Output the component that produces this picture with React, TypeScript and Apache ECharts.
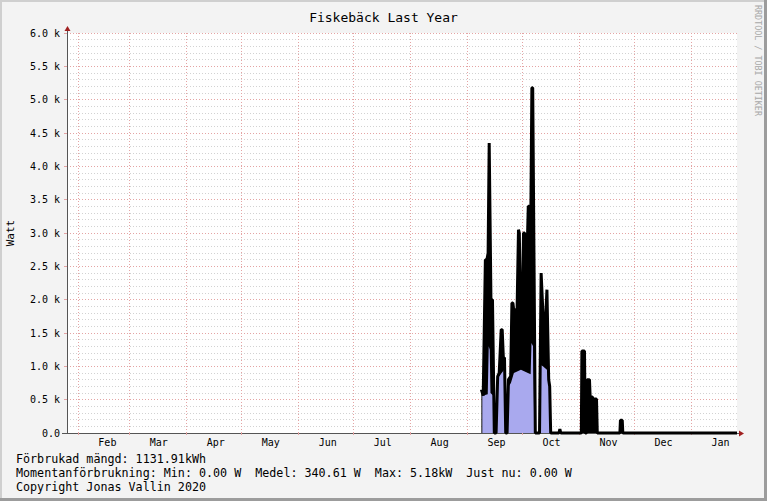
import React, { useEffect, useRef } from "react";
import * as echarts from "echarts";

const FONT = "DejaVu Sans Mono";
const TITLE = "Fiskebäck Last Year";
const Y_NAME = "Watt";
const WATERMARK = "RRDTOOL / TOBI OETIKER";
const X_MIN = "2019-01-26 00:00";
const X_MAX = "2020-01-26 00:00";

const monthStarts = [
  "2019-02-01", "2019-03-01", "2019-04-01", "2019-05-01", "2019-06-01", "2019-07-01",
  "2019-08-01", "2019-09-01", "2019-10-01", "2019-11-01", "2019-12-01", "2020-01-01",
];
const monthLabelDates = [
  "2019-02-17", "2019-03-17", "2019-04-17", "2019-05-17", "2019-06-17", "2019-07-17",
  "2019-08-17", "2019-09-17", "2019-10-17", "2019-11-17", "2019-12-17", "2020-01-17",
];
const monthNames = ["Feb", "Mar", "Apr", "May", "Jun", "Jul", "Aug", "Sep", "Oct", "Nov", "Dec", "Jan"];

const Y_MIN = 0;
const Y_MAX = 6000;
const Y_STEP = 500;

// black: peak power (W)
const maxWatt: [string, number][] = [
  ["2019-09-08 18:00", 650],
  ["2019-09-09 18:00", 560],
  ["2019-09-10 22:00", 2600],
  ["2019-09-11 18:00", 2600],
  ["2019-09-12 10:00", 2700],
  ["2019-09-13 00:00", 4350],
  ["2019-09-13 08:00", 4350],
  ["2019-09-13 23:00", 2000],
  ["2019-09-14 19:00", 2000],
  ["2019-09-15 19:00", 0],
  ["2019-09-16 18:00", 0],
  ["2019-09-17 15:00", 850],
  ["2019-09-18 11:00", 900],
  ["2019-09-19 13:00", 1550],
  ["2019-09-20 02:00", 1550],
  ["2019-09-20 17:00", 1130],
  ["2019-09-21 08:00", 1130],
  ["2019-09-22 00:00", 0],
  ["2019-09-22 18:00", 0],
  ["2019-09-23 12:00", 800],
  ["2019-09-24 17:00", 850],
  ["2019-09-25 09:00", 1950],
  ["2019-09-25 22:00", 1950],
  ["2019-09-26 08:00", 1850],
  ["2019-09-27 06:00", 1850],
  ["2019-09-27 21:00", 1350],
  ["2019-09-28 23:00", 3050],
  ["2019-09-29 10:00", 3000],
  ["2019-09-30 04:00", 1550],
  ["2019-09-30 20:00", 1550],
  ["2019-10-01 17:00", 3000],
  ["2019-10-02 08:00", 3000],
  ["2019-10-02 21:00", 2570],
  ["2019-10-03 13:00", 2570],
  ["2019-10-04 07:00", 3400],
  ["2019-10-04 18:00", 3400],
  ["2019-10-05 12:00", 2600],
  ["2019-10-06 06:00", 5180],
  ["2019-10-06 17:00", 5180],
  ["2019-10-08 03:00", 0],
  ["2019-10-10 10:00", 0],
  ["2019-10-11 07:00", 2400],
  ["2019-10-11 14:00", 2400],
  ["2019-10-12 09:00", 1740],
  ["2019-10-13 19:00", 1740],
  ["2019-10-14 11:00", 2150],
  ["2019-10-14 18:00", 2150],
  ["2019-10-15 10:00", 800],
  ["2019-10-15 23:00", 700],
  ["2019-10-16 12:00", 0],
  ["2019-10-21 00:00", 0],
  ["2019-10-21 12:00", 60],
  ["2019-10-22 00:00", 0],
  ["2019-11-02 05:00", 0],
  ["2019-11-02 12:00", 1230],
  ["2019-11-03 22:00", 1230],
  ["2019-11-04 08:00", 0],
  ["2019-11-05 00:00", 0],
  ["2019-11-05 08:00", 800],
  ["2019-11-06 15:00", 800],
  ["2019-11-07 00:00", 540],
  ["2019-11-08 06:00", 540],
  ["2019-11-08 17:00", 420],
  ["2019-11-09 06:00", 510],
  ["2019-11-10 11:00", 510],
  ["2019-11-10 21:00", 0],
  ["2019-11-23 05:00", 0],
  ["2019-11-23 12:00", 190],
  ["2019-11-24 12:00", 190],
  ["2019-11-24 19:00", 0],
  ["2020-01-26 00:00", 0],
];

// blue: average power (W)
const avgWatt: [string, number][] = [
  ["2019-09-09 06:00", 560],
  ["2019-09-12 05:00", 580],
  ["2019-09-12 18:00", 1300],
  ["2019-09-13 07:00", 1250],
  ["2019-09-13 17:00", 600],
  ["2019-09-15 06:00", 560],
  ["2019-09-15 19:00", 0],
  ["2019-09-16 21:00", 0],
  ["2019-09-17 16:00", 820],
  ["2019-09-21 03:00", 950],
  ["2019-09-21 16:00", 0],
  ["2019-09-22 21:00", 0],
  ["2019-09-23 16:00", 700],
  ["2019-09-24 20:00", 750],
  ["2019-09-26 11:00", 900],
  ["2019-09-30 07:00", 950],
  ["2019-10-05 14:00", 880],
  ["2019-10-06 01:00", 1350],
  ["2019-10-06 22:00", 1300],
  ["2019-10-07 14:00", 0],
  ["2019-10-10 15:00", 0],
  ["2019-10-11 01:00", 1020],
  ["2019-10-12 06:00", 1000],
  ["2019-10-14 11:00", 950],
  ["2019-10-15 07:00", 770],
  ["2019-10-15 23:00", 700],
  ["2019-10-16 07:00", 0],
];

const legendLines = [
  "Förbrukad mängd: 1131.91kWh",
  "Momentanförbrukning: Min: 0.00 W  Medel: 340.61 W  Max: 5.18kW  Just nu: 0.00 W",
  "Copyright Jonas Vallin 2020",
];

const t = (s: string) => new Date(s.length <= 10 ? s + "T00:00" : s.replace(" ", "T")).getTime();

export default function App() {
  const ref = useRef<HTMLDivElement>(null);
  useEffect(() => {
    document.body.style.margin = "0";
    if (!ref.current) return;
    const chart = echarts.init(ref.current, undefined, { renderer: "svg" });
    const monthStartTs = monthStarts.map(t);
    const monthLabelTs = monthLabelDates.map(t);
    const maxData = maxWatt.map(([d, v]) => [t(d), v]);
    const avgData = avgWatt.map(([d, v]) => [t(d), v]);
    const red = "#e4a4a4";
    const grey = "#d2d2d2";
    const axisCol = "#555555";
    const arrowCol = "#a02020";
    const option: any = {
      animation: false,
      backgroundColor: "#f3f3f3",
      title: {
        text: TITLE,
        left: "center",
        top: 6,
        textStyle: { fontFamily: FONT, fontSize: 13, fontWeight: "normal", color: "#000" },
      },
      grid: {
        left: 67, right: 30, top: 33, bottom: 68,
        containLabel: false, outerBoundsMode: "none",
        show: true, backgroundColor: "#ffffff", borderWidth: 0,
      },
      xAxis: {
        type: "value",
        min: t(X_MIN),
        max: t(X_MAX),
        axisLine: { show: true, lineStyle: { color: axisCol, width: 1 } },
        axisTick: { show: true, customValues: monthStartTs, length: 2, lineStyle: { color: red } },
        axisLabel: {
          customValues: monthLabelTs,
          formatter: (v: number) => {
            let best = 0;
            let bd = Infinity;
            monthLabelTs.forEach((m, i) => {
              const d = Math.abs(m - v);
              if (d < bd) { bd = d; best = i; }
            });
            return monthNames[best];
          },
          fontFamily: FONT,
          fontSize: 10,
          color: "#000",
          margin: 4,
        },
        splitLine: { show: true, lineStyle: { color: red, type: [1, 2], width: 1 } },
      },
      yAxis: {
        type: "value",
        min: Y_MIN,
        max: Y_MAX,
        interval: Y_STEP,
        name: Y_NAME,
        nameLocation: "middle",
        nameGap: 51,
        nameRotate: 90,
        nameTextStyle: { fontFamily: FONT, fontSize: 11, color: "#000" },
        axisLine: { show: true, lineStyle: { color: axisCol, width: 1 } },
        axisTick: { show: true, length: 3, lineStyle: { color: red } },
        axisLabel: {
          formatter: (v: number) => (v === 0 ? "0.0" : (v / 1000).toFixed(1) + " k"),
          fontFamily: FONT,
          fontSize: 10,
          color: "#000",
          margin: 7,
        },
        splitLine: { show: true, lineStyle: { color: red, type: [1, 2], width: 1 } },
        minorTick: { show: false, splitNumber: 5 },
        minorSplitLine: { show: true, lineStyle: { color: grey, type: [1, 2], width: 1 } },
      },
      series: [
        {
          type: "line", data: maxData, symbol: "none", silent: true, z: 2,
          lineStyle: { width: 0, color: "#000" }, itemStyle: { color: "#000" },
          areaStyle: { color: "#000", opacity: 1 },
        },
        {
          type: "line", data: avgData, symbol: "none", silent: true, z: 3,
          lineStyle: { width: 0, color: "#a9a9ee" }, itemStyle: { color: "#a9a9ee" },
          areaStyle: { color: "#a9a9ee", opacity: 1 },
        },
        {
          type: "line", data: maxData, symbol: "none", silent: true, z: 4, clip: false,
          lineStyle: { width: 3, color: "#000" }, itemStyle: { color: "#000" },
        },
      ],
      graphic: [
        { type: "rect", z: 100, shape: { x: 0, y: 0, width: 767, height: 2 }, style: { fill: "#cfcfcf" } },
        { type: "rect", z: 100, shape: { x: 0, y: 0, width: 2, height: 501 }, style: { fill: "#cfcfcf" } },
        { type: "rect", z: 100, shape: { x: 0, y: 498, width: 767, height: 3 }, style: { fill: "#9c9c9c" } },
        { type: "rect", z: 100, shape: { x: 764, y: 0, width: 3, height: 501 }, style: { fill: "#9c9c9c" } },
        { type: "line", z: 100, shape: { x1: 62, y1: 433.5, x2: 67, y2: 433.5 }, style: { stroke: axisCol, lineWidth: 1 } },
        { type: "line", z: 100, shape: { x1: 67.5, y1: 33, x2: 67.5, y2: 29 }, style: { stroke: axisCol, lineWidth: 1 } },
        { type: "polygon", z: 100, shape: { points: [[67.5, 26], [64.5, 31], [70.5, 31]] }, style: { fill: arrowCol } },
        { type: "line", z: 100, shape: { x1: 737, y1: 433.5, x2: 740, y2: 433.5 }, style: { stroke: axisCol, lineWidth: 1 } },
        { type: "polygon", z: 100, shape: { points: [[744, 433.5], [739, 430.5], [739, 436.5]] }, style: { fill: arrowCol } },
        {
          type: "text", z: 100, x: 762, y: 5, rotation: -Math.PI / 2,
          style: { text: WATERMARK, fill: "#a8a8a8", font: `8.4px "${FONT}"`, textAlign: "left", textVerticalAlign: "top" },
        },
        ...legendLines.map((s, i) => ({
          type: "text", z: 100, x: 16, y: 459 + i * 14,
          style: { text: s, fill: "#000", font: `11.7px "${FONT}"`, textAlign: "left", textVerticalAlign: "middle" },
        })),
      ],
    };
    chart.setOption(option);
    return () => chart.dispose();
  }, []);
  return <div ref={ref} style={{ width: 767, height: 501 }} />;
}
